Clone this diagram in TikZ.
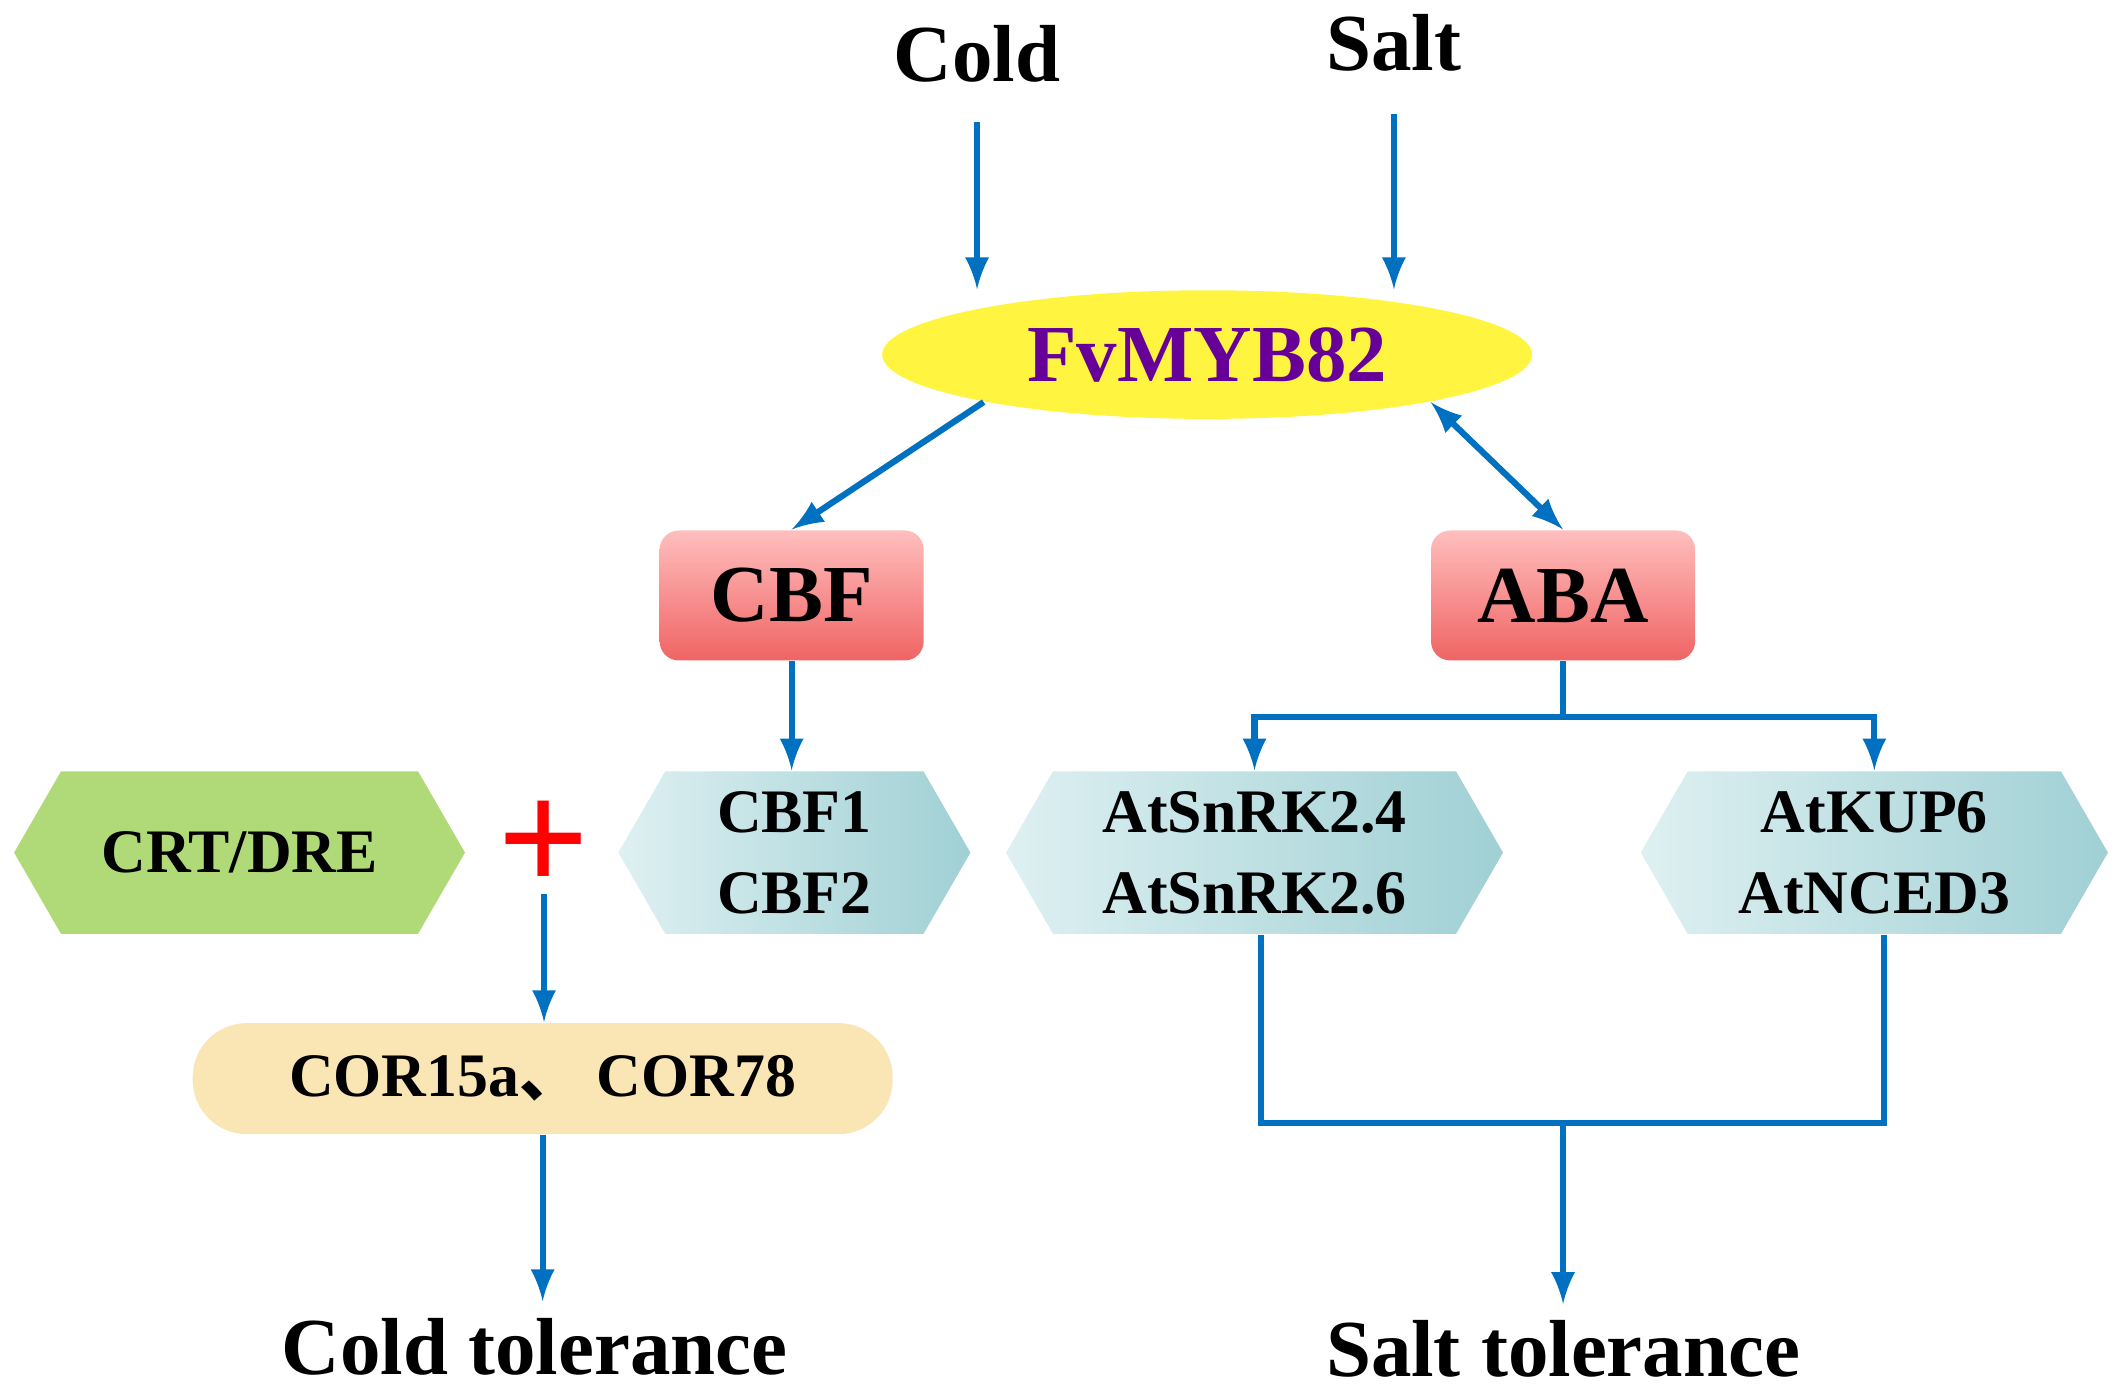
\documentclass[tikz,border=0pt]{standalone}
\usepackage{fontspec}
\setmainfont{Liberation Serif}
\newfontfamily\cjk{Noto Sans CJK SC}
\usetikzlibrary{shapes.geometric,shapes.symbols}
\definecolor{arrblue}{RGB}{0,112,192}
\definecolor{hexl}{RGB}{222,240,242}
\definecolor{hexd}{RGB}{160,208,212}
\definecolor{hexg}{RGB}{176,218,120}
\definecolor{boxl}{RGB}{255,190,190}
\definecolor{boxd}{RGB}{240,100,100}
\definecolor{corfill}{RGB}{250,230,180}
\tikzset{
  flow/.style={draw=arrblue,line width=1.3pt,-latex},
  link/.style={draw=arrblue,line width=1.3pt},
  hexbox/.style={signal,signal to=west and east,signal pointer angle=120,
    left color=hexl,right color=hexd,draw=none,inner sep=0pt,
    font=\bfseries\fontsize{13}{17}\selectfont,align=center},
  redbox/.style={rounded corners=4pt,top color=boxl,bottom color=boxd,draw=none,
    minimum width=1.95cm,minimum height=0.96cm,font=\bfseries\fontsize{17}{20}\selectfont},
  bigtext/.style={font=\bfseries\fontsize{17}{20}\selectfont}
}
\begin{document}
\begin{tikzpicture}[x=0.01cm,y=-0.01cm]
\useasboundingbox (0,0) rectangle (1568,1026);

% inputs
\node[bigtext] (cold) at (722,40) {Cold};
\node[bigtext] (salt) at (1030,32) {Salt};
\node[ellipse,fill=yellow!75,minimum width=4.8cm,minimum height=0.95cm,
  text=violet!80!blue,bigtext] (myb) at (892,262) {FvMYB82};
\draw[flow] (cold) ++(0,50) coordinate (c0) -- (c0|-myb.north);
\draw[flow] (salt) ++(0,52) coordinate (s0) -- (s0|-myb.north);

% second level
\node[redbox] (cbf) at (585,440) {CBF};
\node[redbox] (aba) at (1155,440) {ABA};
\draw[flow] (myb.192) -- (cbf.north);
\draw[flow,latex-latex] (myb.-12) -- (aba.north);

% genes
\node[hexbox,left color=hexg,right color=hexg,
  minimum width=3.33cm,minimum height=1.2cm] (crt) at (177,630) {CRT/DRE};
\node[hexbox,minimum width=2.6cm,minimum height=1.2cm] (cbfs) at (587,630) {CBF1\\CBF2};
\node[hexbox,minimum width=3.67cm,minimum height=1.2cm] (snrk) at (927,630) {AtSnRK2.4\\AtSnRK2.6};
\node[hexbox,minimum width=3.45cm,minimum height=1.2cm] (kup) at (1385,630) {AtKUP6\\AtNCED3};
\draw[flow] (cbf.south) -- (cbf.south|-cbfs.north);
\coordinate (abaj) at (1155,530);
\draw[link] (aba.south) -- (abaj);
\draw[flow] (abaj) -| (snrk.north);
\draw[flow] (abaj) -| (kup.north);

% cold branch
\node[text=red,font=\bfseries\fontsize{34}{34}\selectfont,inner sep=0pt] (plus) at (402,626) {+};
\node[rounded corners=0.4cm,fill=corfill,minimum width=5.17cm,minimum height=0.82cm,
  font=\bfseries\fontsize{13}{17}\selectfont] (cor) at (401,797) {COR15a{\cjk 、} COR78};
\node[bigtext] (coldt) at (395,995) {Cold tolerance};
\draw[flow] (plus.south) -- (plus.south|-cor.north);
\draw[flow] (cor.south) -- (cor.south|-coldt.north);

% salt branch
\node[bigtext] (saltt) at (1155,997) {Salt tolerance};
\coordinate (sj) at (1155,830);
\draw[link] (snrk.south-|932,0) |- (sj);
\draw[link] (kup.south-|1392,0) |- (sj);
\draw[flow] (sj) -- (saltt.north);
\end{tikzpicture}
\end{document}
